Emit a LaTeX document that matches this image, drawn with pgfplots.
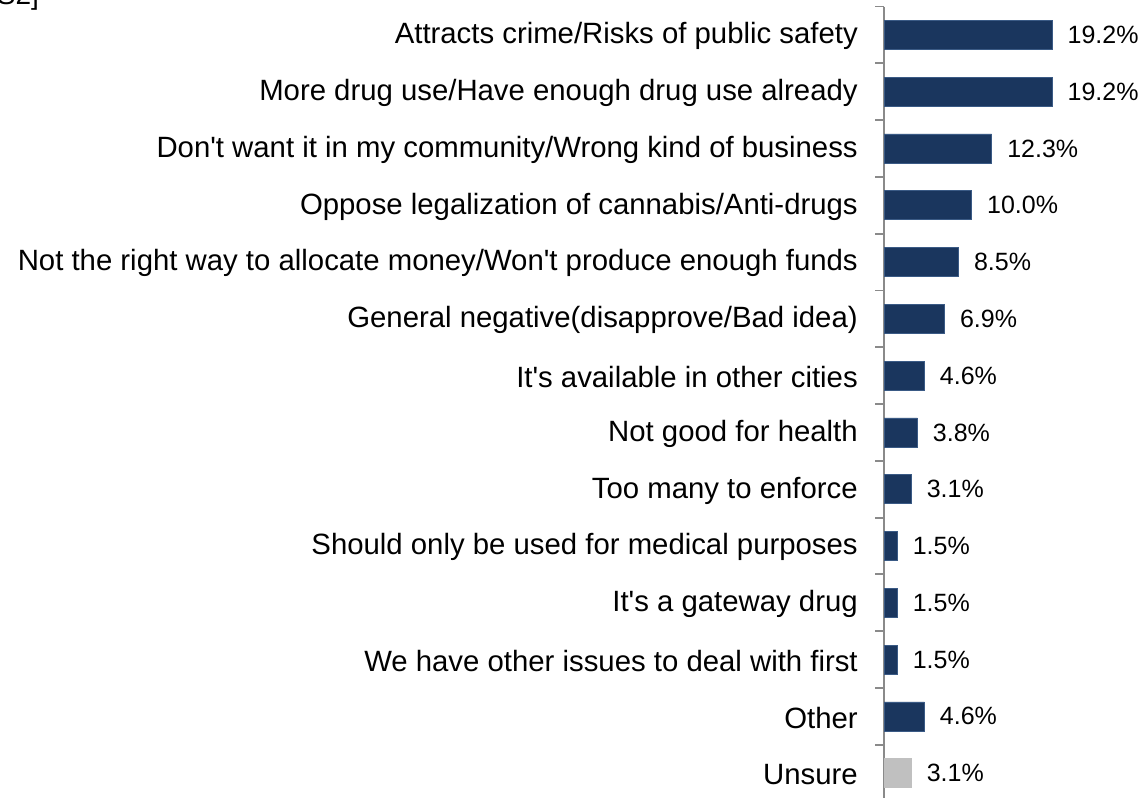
\documentclass[border=0pt]{standalone}
\usepackage{fontspec}
\setmainfont{Liberation Sans}
\usepackage{pgfplots}
\pgfplotsset{compat=1.18}
\definecolor{navy}{HTML}{1A365E}
\definecolor{navyedge}{HTML}{3A5A85}
\definecolor{unsure}{HTML}{C0C0C0}
\definecolor{axgray}{HTML}{8A8A8A}
\newcommand{\ap}{\textquotesingle}
\begin{document}
\begin{tikzpicture}
\useasboundingbox (0pt,0pt) rectangle (858.75pt,-598.5pt);
\node[anchor=base west, inner sep=0, font=\fontsize{21}{25}\selectfont] at (-2.5pt,-3.5pt) {S2]};
\begin{axis}[
  at={(663pt,-4.875pt)}, anchor=north west,
  scale only axis, width=180pt, height=596.25pt,
  xmin=0, xmax=27.43,
  ymin=-0.5, ymax=13.5, y dir=reverse,
  hide x axis,
  axis y line*=left,
  axis line style={axgray, line width=1.4pt},
  clip=false,
  /pgf/number format/assume math mode=true,
  ytick={0,...,13},
  yticklabels={
    Attracts crime/Risks of public safety,
    More drug use/Have enough drug use already,
    Don\ap t want it in my community/Wrong kind of business,
    Oppose legalization of cannabis/Anti-drugs,
    Not the right way to allocate money/Won\ap t produce enough funds,
    General negative(disapprove/Bad idea),
    It\ap s available in other cities,
    Not good for health,
    Too many to enforce,
    Should only be used for medical purposes,
    It\ap s a gateway drug,
    We have other issues to deal with first,
    Other,
    Unsure},
  major tick length=0pt,
  minor ytick={-0.5,0.5,...,13.5},
  minor tick length=6.75pt,
  tick align=outside,
  minor tick style={axgray, line width=1.4pt},
  yticklabel style={font=\fontsize{22}{26}\selectfont, anchor=east, inner sep=0pt, xshift=-19.5pt, yshift=-1pt},
  xbar, bar width=21.75pt,
  nodes near coords={\pgfmathprintnumber[fixed,fixed zerofill,precision=1,assume math mode=true]{\pgfplotspointmeta}\%},
  nodes near coords style={font=\fontsize{18.75}{22}\selectfont, anchor=west, inner sep=0pt, xshift=11.5pt, text=black},
]
\addplot[bar shift=0pt, fill=navy, draw=navyedge, line width=0.5pt] coordinates {
  (19.2,0) (19.2,1) (12.3,2) (10.0,3) (8.5,4) (6.9,5) (4.6,6)
  (3.8,7) (3.1,8) (1.5,9) (1.5,10) (1.5,11) (4.6,12)};
\addplot[bar shift=0pt, fill=unsure, draw=unsure, line width=0.5pt] coordinates {(3.1,13)};
\end{axis}
\end{tikzpicture}
\end{document}
